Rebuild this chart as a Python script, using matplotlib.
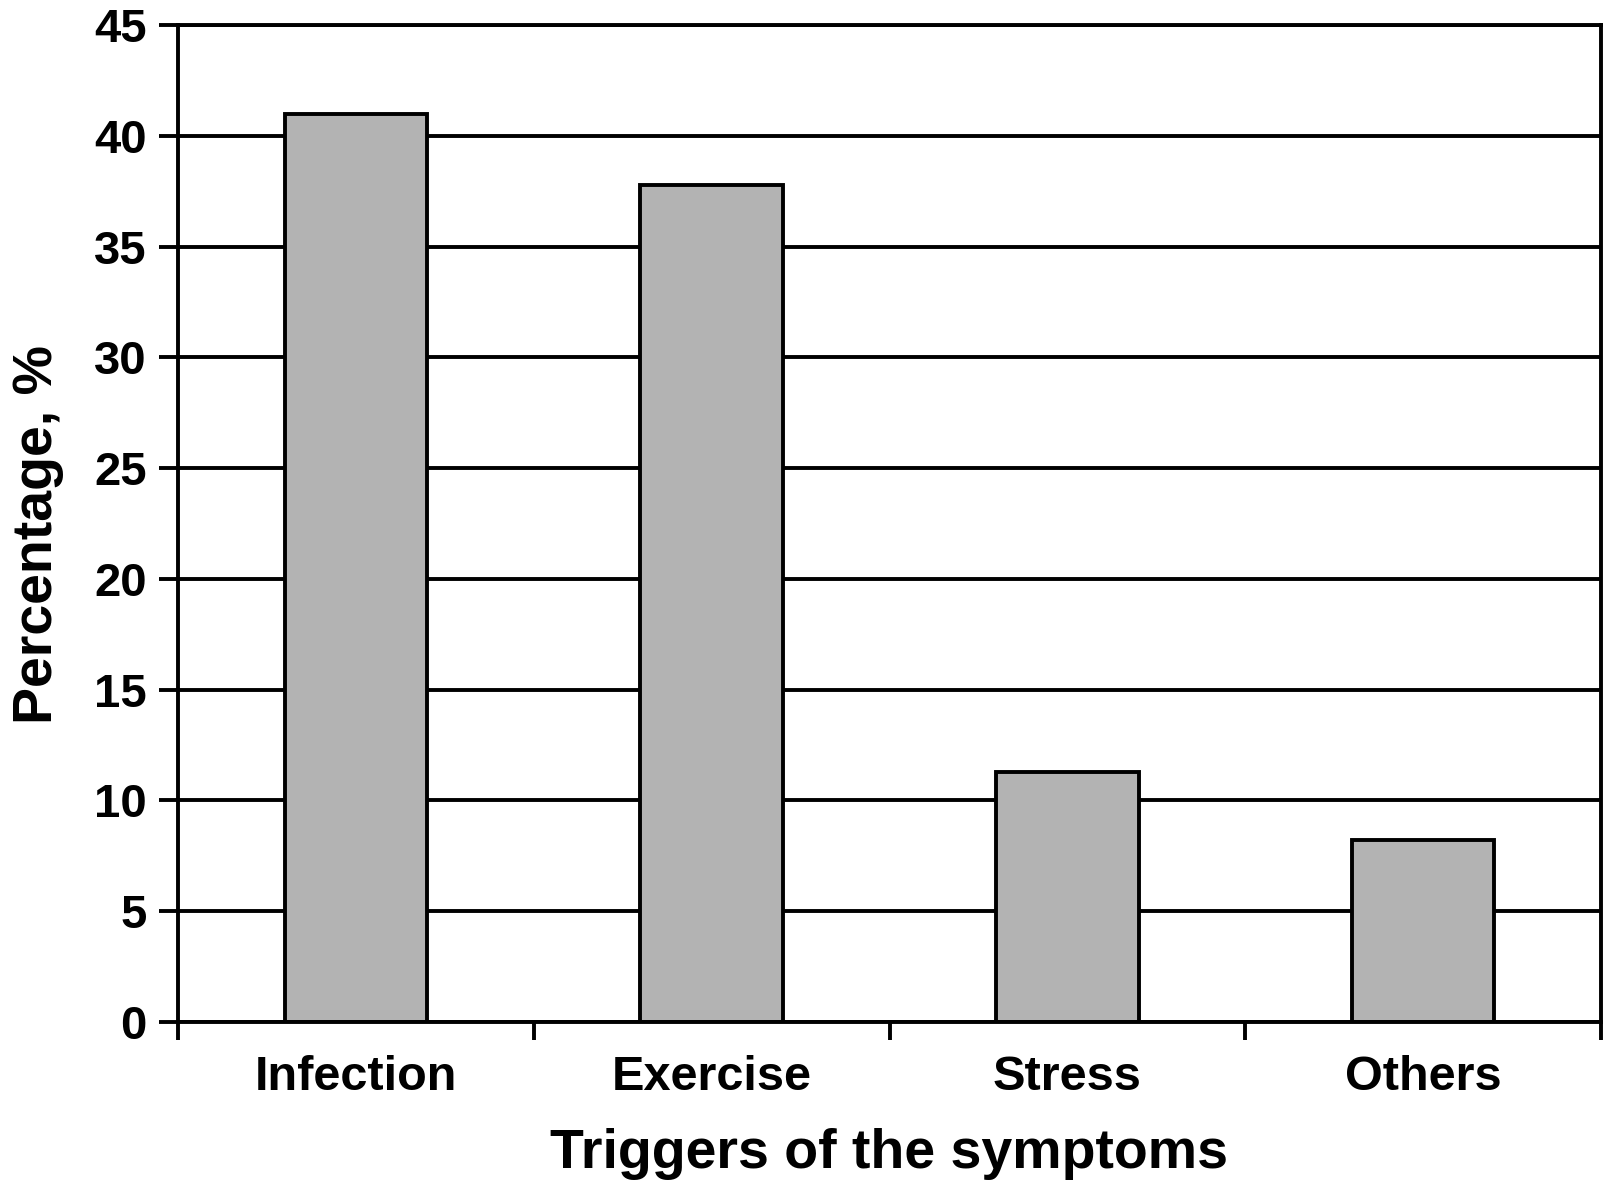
import numpy as np
import matplotlib
matplotlib.use('Agg')
import matplotlib.pyplot as plt
from matplotlib.ticker import FixedLocator

# 数据
categories = ['Infection', 'Exercise', 'Stress', 'Others']
values = [41.0, 37.8, 11.3, 8.2]
y_ticks = [0, 5, 10, 15, 20, 25, 30, 35, 40, 45]

plt.rcParams['font.family'] = ['Liberation Sans', 'DejaVu Sans']
plt.rcParams['font.weight'] = 'bold'

lw = 2.8

fig = plt.figure(figsize=(16.04, 11.94), dpi=100)
ax = fig.add_axes([178 / 1604, 1 - 1022 / 1194, (1601 - 178) / 1604, (1022 - 25) / 1194])

x = np.arange(len(categories))
ax.bar(x, values, width=0.4, color='#b3b3b3', edgecolor='black', linewidth=lw, zorder=3)

# 网格线
ax.set_ylim(0, 45)
ax.set_xlim(-0.5, len(categories) - 0.5)
ax.set_yticks(y_ticks)
ax.set_yticklabels([str(v) for v in y_ticks])
ax.yaxis.grid(True, color='black', linewidth=lw, zorder=1)

# x轴刻度放在类别边界处，标签放在中间
ax.xaxis.set_major_locator(FixedLocator(np.arange(-0.5, len(categories), 1.0)))
ax.xaxis.set_minor_locator(FixedLocator(x))
ax.set_xticklabels([], minor=False)
ax.set_xticklabels(categories, minor=True)
ax.tick_params(axis='x', which='major', direction='out', length=13, width=lw)
ax.tick_params(axis='x', which='minor', length=0, pad=24, labelsize=35)
ax.tick_params(axis='y', direction='out', length=13.5, width=lw, pad=9, labelsize=34)

for s in ax.spines.values():
    s.set_linewidth(lw)
    s.set_zorder(4)

ax.set_xlabel('Triggers of the symptoms', fontsize=40, fontweight='bold', labelpad=20)
ax.set_ylabel('Percentage, %', fontsize=40, fontweight='bold')
ax.yaxis.set_label_coords(-0.08, 0.489)

plt.savefig('out.png', dpi=100)
plt.close()
